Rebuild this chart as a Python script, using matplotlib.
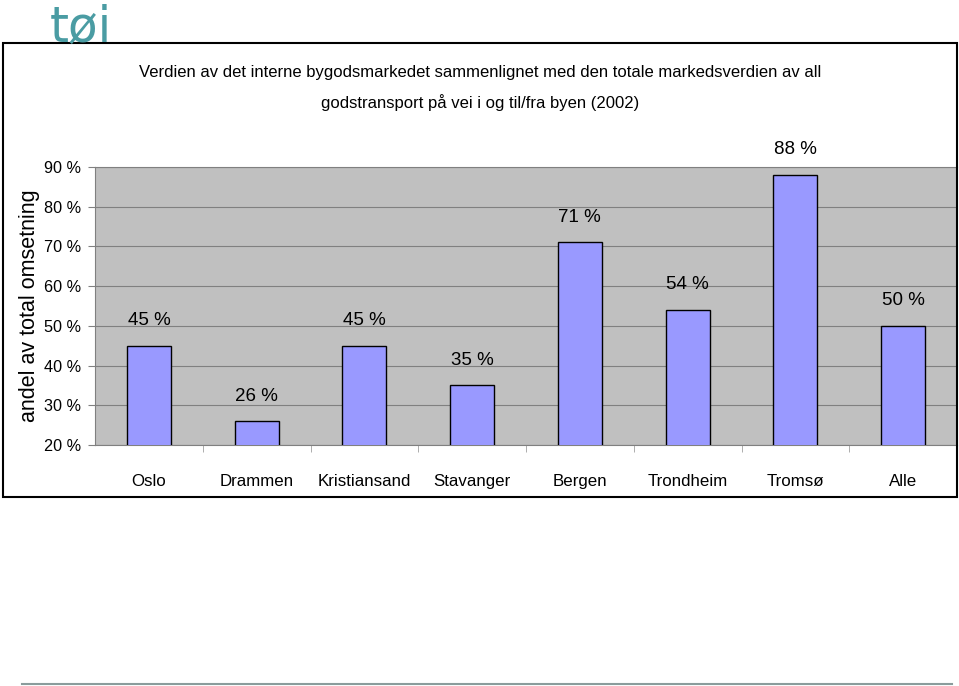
"""
Verdien av det interne bygodsmarkedet - stolpediagram
"""

import matplotlib
matplotlib.use('Agg')
import matplotlib.pyplot as plt
from matplotlib.lines import Line2D
from matplotlib.patches import Rectangle

# Data
cities = ['Oslo', 'Drammen', 'Kristiansand', 'Stavanger', 'Bergen',
          'Trondheim', 'Tromsø', 'Alle']
shares = [45, 26, 45, 35, 71, 54, 88, 50]
value_labels = ['45 %', '26 %', '45 %', '35 %', '71 %', '54 %', '88 %', '50 %']
y_ticks = [20, 30, 40, 50, 60, 70, 80, 90]
y_tick_labels = ['20 %', '30 %', '40 %', '50 %', '60 %', '70 %', '80 %', '90 %']

TITLE = ('Verdien av det interne bygodsmarkedet sammenlignet med den totale markedsverdien av all\n'
         'godstransport på vei i og til/fra byen (2002)')
Y_LABEL = 'andel av total omsetning'

# Arial Narrow is not available, so Arial-metric Liberation Sans at a smaller size
FONT = ['Liberation Sans', 'DejaVu Sans']
BAR_COLOR = '#9999ff'
PLOT_BG = '#c0c0c0'

W, H = 959, 686
fig = plt.figure(figsize=(W / 100, H / 100), dpi=100)
fig.patch.set_facecolor('white')

# Outer frame of the chart object
frame = Rectangle((3 / W, 1 - 497 / H), 954 / W, 454 / H, transform=fig.transFigure,
                  fill=False, edgecolor='black', linewidth=1.5)
fig.add_artist(frame)

# Logo and footer line
fig.text(50 / W, 1 - 42 / H, 'tøi', color='#4a9ca3', fontsize=35,
         family='DejaVu Sans', ha='left', va='baseline')
fig.add_artist(Line2D([22 / W, 952 / W], [1 - 684 / H, 1 - 684 / H],
                      transform=fig.transFigure, color='#8a9c9c', linewidth=1.5))

# Plot area
ax = fig.add_axes([95 / W, 1 - 445 / H, 862 / W, 278 / H])
ax.set_facecolor(PLOT_BG)
x = range(len(cities))
ax.bar(x, shares, width=0.41, color=BAR_COLOR, edgecolor='black', linewidth=1.0,
       zorder=3)
ax.set_xlim(-0.5, len(cities) - 0.5)
ax.set_ylim(20, 90)
ax.set_yticks(y_ticks)
ax.set_yticklabels(y_tick_labels, family=FONT, fontsize=11.7)
ax.set_xticks(list(x))
ax.set_xticklabels(cities, family=FONT, fontsize=12.2)
ax.tick_params(axis='x', length=0, pad=21)
ax.tick_params(axis='y', length=5, color='#808080', pad=5)
ax.set_xticks([i + 0.5 for i in range(len(cities) - 1)], minor=True)
ax.tick_params(axis='x', which='minor', length=5, color='#a0a0a0')
ax.grid(axis='y', color='#808080', linewidth=0.8, zorder=0)
for side in ['left', 'bottom', 'top']:
    ax.spines[side].set_color('#808080')
ax.spines['right'].set_visible(False)

for i, (v, lab) in enumerate(zip(shares, value_labels)):
    ax.annotate(lab, (i, v), xytext=(0, 12), textcoords='offset points',
                ha='center', va='bottom', family=FONT, fontsize=13.5,
                annotation_clip=False)

ax.set_ylabel(Y_LABEL, family=FONT, fontsize=15.5)
ax.yaxis.set_label_coords(-55 / 862, 0.5)

fig.text(480 / W, 1 - 88 / H, TITLE, ha='center', va='center', family=FONT,
         fontsize=12, linespacing=2.0)

fig.savefig('out.png', dpi=100)
